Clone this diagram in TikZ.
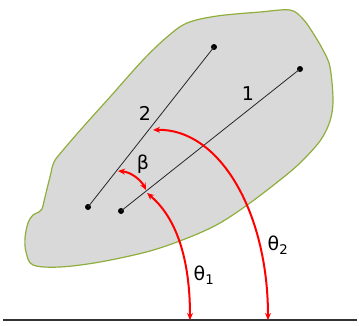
\documentclass[tikz,border=0pt]{standalone}
\usepackage{fontspec}
\setmainfont{DejaVu Sans}
\usetikzlibrary{arrows.meta}
\definecolor{blobfill}{HTML}{D9D9D9}
\definecolor{blobline}{HTML}{8FAE3C}
\tikzset{
  blob/.style={fill=blobfill, draw=blobline, line width=1.2pt},
  seg/.style={draw=black!85, line width=0.8pt},
  dotmark/.style={circle, fill=black, inner sep=0pt, minimum size=6pt},
  anglearc/.style={draw=red, line width=2pt, {Stealth[length=7pt,width=6pt]}-{Stealth[length=7pt,width=6pt]}},
  lbl/.style={font=\fontsize{19}{19}\selectfont, inner sep=0pt},
}
\begin{document}
\begin{tikzpicture}[x=1pt,y=-1pt]
\useasboundingbox (0,0) rectangle (359,325);
% blob
\draw[blob] plot[smooth cycle, tension=0.55] coordinates {
 (187,23) (217,16) (260,12) (290,10) (303,19) (313,33) (323,50) (330,67) (333,100)
 (330,121) (320,141) (300,163) (280,180) (250,203) (220,223) (190,237) (150,251)
 (100,262) (60,267) (33,265) (26,252) (25,238) (28,223) (33,215) (39,212) (42,209)
 (45,197) (50,177) (54,162) (64,149) (83,127) (110,97) (143,60) (167,37)};
% ground
\coordinate (gl) at (3,320);
\coordinate (gr) at (357,320);
\draw[draw=black!80, line width=1.5pt] (gl) -- (gr);
% line 2
\node[dotmark] (a2) at (88,207) {};
\node[dotmark] (b2) at (214,47) {};
\draw[seg] (a2.center) -- (b2.center);
% line 1
\node[dotmark] (a1) at (121,211) {};
\node[dotmark] (b1) at (300,69) {};
\draw[seg] (a1.center) -- (b1.center);
% arc end points
\coordinate (t2s) at (153,130);
\coordinate (t2e) at (268,320);
\coordinate (t1s) at (147,193);
\coordinate (t1e) at (190,320);
\coordinate (bs) at (118,171);
\coordinate (be) at (146,190);
\draw[anglearc] (t2s) .. controls (218,128) and (268,210) .. (t2e);
\draw[anglearc] (t1s) .. controls (172,214) and (190,250) .. (t1e);
\draw[anglearc] (bs) .. controls (131,172) and (141,180) .. (be);
% labels
\node[lbl] (l1) at (248,94) {1};
\node[lbl] (l2) at (145,113) {2};
\node[lbl] (lb) at (143,164) {β};
\node[lbl] (lt1) at (204,275) {θ\textsubscript{1}};
\node[lbl] (lt2) at (278,245) {θ\textsubscript{2}};
\end{tikzpicture}
\end{document}
